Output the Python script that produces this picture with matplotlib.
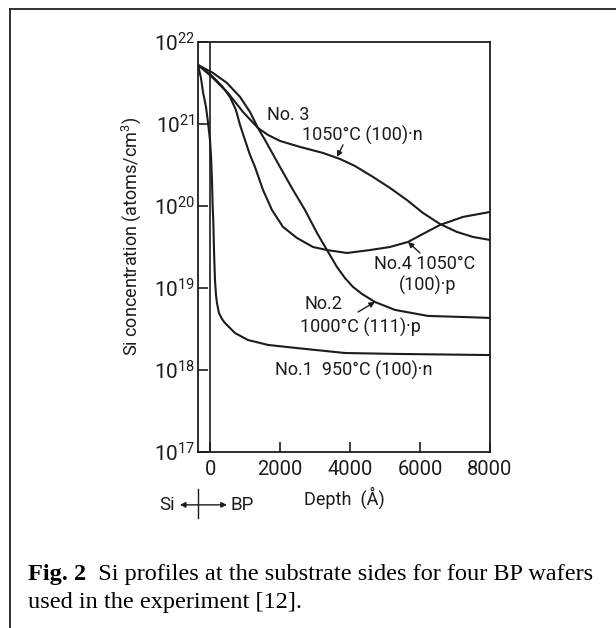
import matplotlib
matplotlib.use('Agg')
import matplotlib.pyplot as plt
from matplotlib.lines import Line2D
from matplotlib.ticker import NullLocator

plt.rcParams['font.family'] = ['Roboto', 'DejaVu Sans']
plt.rcParams['mathtext.default'] = 'regular'

# Si profiles: depth (Angstrom) vs Si concentration (atoms/cm3)
no1_depth = [-350, -264, -207, -121, -64, -7, 22, 50, 70, 87, 108, 136, 165, 193,
             250, 336, 422, 565, 708, 1080, 1652, 2424, 3854, 5283, 8000]
no1_conc = [5.25e21, 3.63e21, 2.45e21, 1.61e21, 1.05e21, 6.38e20, 4.17e20, 2.07e20,
            9.77e19, 6.76e19, 2.90e19, 1.26e19, 8.22e18, 6.56e18, 4.95e18, 4.19e18,
            3.74e18, 3.25e18, 2.82e18, 2.32e18, 2.02e18, 1.86e18, 1.61e18, 1.57e18,
            1.52e18]

no2_depth = [-350, 79, 479, 851, 1137, 1366, 1566, 1995, 2367, 2710, 3053, 3339,
             3625, 3854, 4083, 4340, 4711, 5283, 6227, 7199, 8000]
no2_conc = [5.25e21, 4.19e21, 3.16e21, 2.14e21, 1.40e21, 8.91e20, 6.38e20, 2.99e20,
            1.57e20, 8.93e19, 4.69e19, 2.90e19, 1.80e19, 1.32e19, 1.03e19, 8.45e18,
            6.75e18, 5.40e18, 4.56e18, 4.43e18, 4.31e18]

no3_depth = [-350, 50, 508, 937, 1366, 1652, 1995, 2567, 3225, 3711, 4140, 4654,
             5140, 5626, 6084, 6570, 7056, 7514, 8000]
no3_conc = [5.25e21, 3.74e21, 2.39e21, 1.40e21, 8.93e20, 7.35e20, 6.21e20, 5.25e20,
            4.43e20, 3.74e20, 3.07e20, 2.26e20, 1.66e20, 1.18e20, 8.22e19, 6.03e19,
            4.82e19, 4.19e19, 3.85e19]

no4_depth = [-350, 50, 336, 565, 737, 851, 994, 1137, 1280, 1509, 1766, 2081, 2481,
             2939, 3339, 3911, 4569, 5140, 5655, 6084, 6570, 7228, 8000]
no4_conc = [5.25e21, 3.85e21, 2.90e21, 2.13e21, 1.48e21, 9.73e20, 6.38e20, 4.19e20,
            2.99e20, 1.57e20, 8.93e19, 5.55e19, 4.07e19, 3.16e19, 2.90e19, 2.67e19,
            2.90e19, 3.16e19, 3.64e19, 4.56e19, 5.86e19, 7.35e19, 8.45e19]

x_ticks = [0, 2000, 4000, 6000, 8000]
y_ticks = [1e17, 1e18, 1e19, 1e20, 1e21, 1e22]

ink = '#1c1c1c'

fig = plt.figure(figsize=(6.16, 6.28), dpi=100)
ax = fig.add_axes([0.3214, 0.2803, 0.4740, 0.6529])

for d, c in [(no1_depth, no1_conc), (no2_depth, no2_conc),
             (no3_depth, no3_conc), (no4_depth, no4_conc)]:
    ax.plot(d, c, color=ink, lw=1.5, solid_joinstyle='round')

# Si / BP interface
ax.axvline(0, color=ink, lw=1.2)

ax.set_yscale('log')
ax.set_xlim(-350, 8000)
ax.set_ylim(1e17, 1e22)
ax.set_xticks(x_ticks)
ax.set_yticks(y_ticks)
ax.yaxis.set_minor_locator(NullLocator())
ax.tick_params(direction='in', length=7, width=1.2, color=ink, labelcolor=ink)
ax.tick_params(axis='x', labelsize=14.5, pad=6)
ax.tick_params(axis='y', labelsize=15, pad=2)
for s in ax.spines.values():
    s.set_linewidth(1.3)
    s.set_color(ink)

ax.set_ylabel('Si concentration (atoms/cm$^3$)', fontsize=13, color=ink)
ax.yaxis.set_label_coords(-0.188, 0.527)
ax.set_xlabel('Depth  (Å)', fontsize=13, color=ink)
ax.xaxis.set_label_coords(0.503, -0.085)

# curve labels
fs = 13
ax.text(0.310, 0.823, 'No. 3', transform=ax.transAxes, fontsize=fs, color=ink,
        ha='center', va='center')
ax.text(0.562, 0.773, '1050°C (100)·n', transform=ax.transAxes, fontsize=fs,
        color=ink, ha='center', va='center')
ax.text(0.777, 0.459, 'No.4 1050°C', transform=ax.transAxes, fontsize=fs,
        color=ink, ha='center', va='center')
ax.text(0.786, 0.407, '(100)·p', transform=ax.transAxes, fontsize=fs,
        color=ink, ha='center', va='center')
ax.text(0.430, 0.360, 'No.2', transform=ax.transAxes, fontsize=fs, color=ink,
        ha='center', va='center')
ax.text(0.558, 0.304, '1000°C (111)·p', transform=ax.transAxes, fontsize=fs,
        color=ink, ha='center', va='center')
ax.text(0.532, 0.199, 'No.1  950°C (100)·n', transform=ax.transAxes, fontsize=fs,
        color=ink, ha='center', va='center')

arrow = dict(arrowstyle='-|>', color=ink, lw=1.0, mutation_scale=8,
             shrinkA=0, shrinkB=0)
ax.annotate('', xy=(3625, 3.96e20), xytext=(3797, 5.55e20), arrowprops=arrow)
ax.annotate('', xy=(5655, 3.64e19), xytext=(6000, 2.67e19), arrowprops=arrow)
ax.annotate('', xy=(4711, 6.75e18), xytext=(4226, 5.09e18), arrowprops=arrow)

# Si <-|-> BP marker under the axis
ax.text(-0.106, -0.129, 'Si', transform=ax.transAxes, fontsize=13.5, color=ink,
        ha='center', va='center')
ax.text(0.152, -0.129, 'BP', transform=ax.transAxes, fontsize=13.5, color=ink,
        ha='center', va='center')
side = dict(arrowstyle='-|>', color=ink, lw=1.0, mutation_scale=8,
            shrinkA=0, shrinkB=0)
ax.annotate('', xy=(-0.062, -0.129), xytext=(0.0, -0.129), xycoords='axes fraction',
            arrowprops=side, annotation_clip=False)
ax.annotate('', xy=(0.099, -0.129), xytext=(0.0, -0.129), xycoords='axes fraction',
            arrowprops=side, annotation_clip=False)
ax.plot([0, 0], [-0.09, -0.161], transform=ax.transAxes, color=ink, lw=1.0,
        clip_on=False)

# page frame
fig.add_artist(Line2D([0.0162, 0.0162], [0.0, 0.9857], color='#222222', lw=1.3))
fig.add_artist(Line2D([0.0162, 1.0], [0.9857, 0.9857], color='#222222', lw=1.3))

# caption
cap = fig.text(0.0455, 1 - 580 / 628, 'Fig. 2', family='Liberation Serif',
               fontsize=17.5, weight='bold', va='baseline', ha='left')
ax.annotate('  Si profiles at the substrate sides for four BP wafers',
            xy=(1, 0), xycoords=cap, va='bottom', ha='left',
            family='Liberation Serif', fontsize=17.5, annotation_clip=False)
fig.text(0.0455, 1 - 608 / 628, 'used in the experiment [12].',
         family='Liberation Serif', fontsize=17.5, va='baseline', ha='left')

fig.savefig('out.png', dpi=100)
